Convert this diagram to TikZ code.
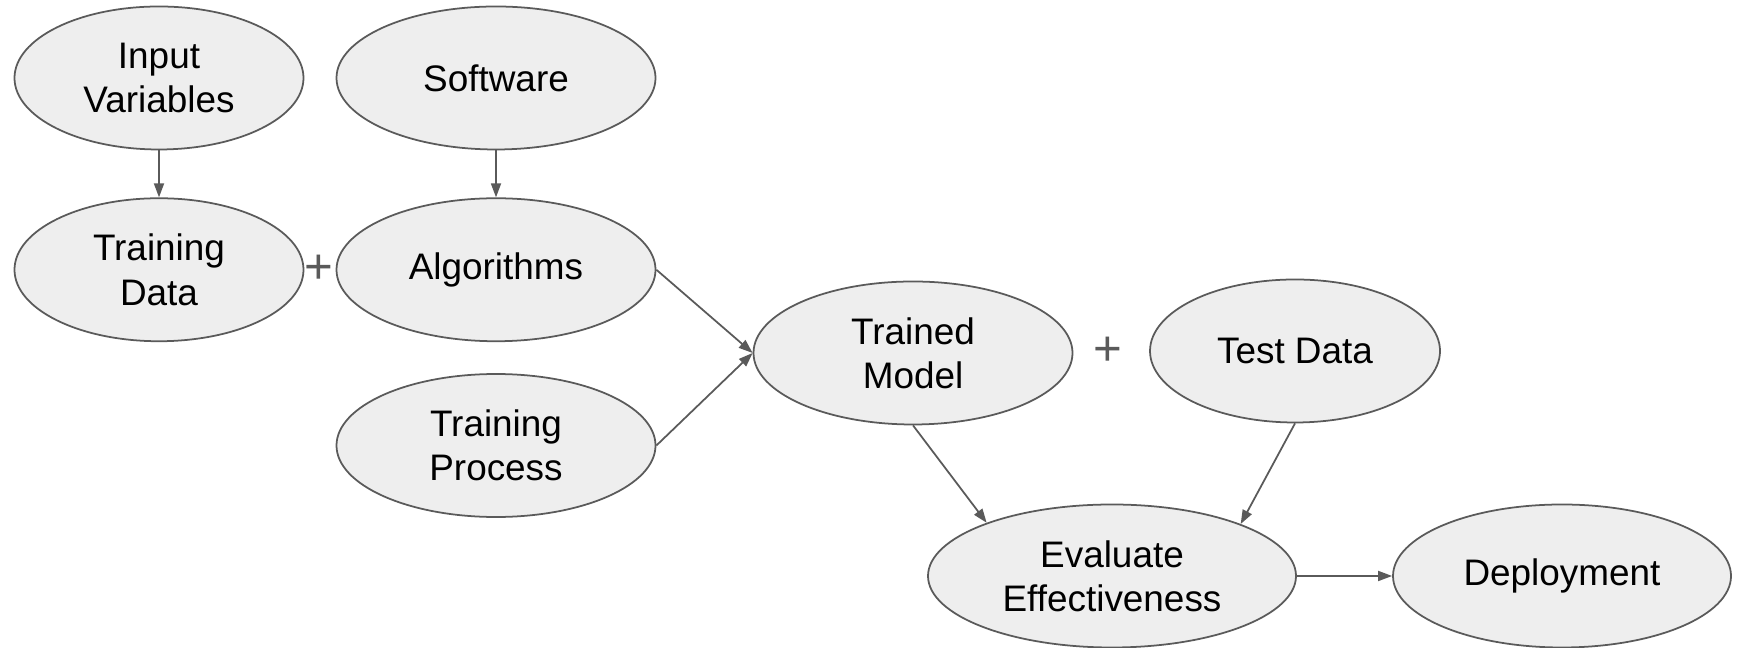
\documentclass[tikz,border=0pt]{standalone}
\usepackage{fontspec}
\setmainfont{Liberation Sans}
\usetikzlibrary{shapes.geometric, arrows.meta, positioning}

\definecolor{stagefill}{HTML}{EEEEEE}
\definecolor{stageline}{HTML}{5A5A5A}

\begin{document}
\begin{tikzpicture}[
    node distance=4.7mm,
    every node/.style={font=\fontsize{10.5}{12.6}\selectfont},
    stage/.style={ellipse, draw=stageline, line width=0.5pt, fill=stagefill, inner sep=0pt, minimum height=1.43cm, align=center},
    plussign/.style={text=stageline, font=\fontsize{14}{14}\selectfont},
    arrow/.style={-{Triangle[length=1.4mm, width=1mm]}, draw=stageline, line width=0.5pt}
]
    \useasboundingbox (0,0) rectangle (17.41,-6.48);

    % Inputs
    \node[stage, minimum width=2.89cm] (input) at (1.59,-0.78) {Input\\Variables};
    \node[stage, minimum width=2.89cm, below=of input] (tdata) {Training\\Data};
    \node[stage, minimum width=3.19cm] (software) at (4.96,-0.78) {Software};
    \node[stage, minimum width=3.19cm, below=of software] (algo) {Algorithms};
    \node[stage, minimum width=3.19cm, below=3.1mm of algo] (process) {Training\\Process};

    % Model and evaluation
    \node[stage, minimum width=3.19cm] (model) at (9.13,-3.53) {Trained\\Model};
    \node[stage, minimum width=2.90cm] (testdata) at (12.95,-3.51) {Test Data};
    \node[stage, minimum width=3.68cm] (evaluate) at (11.12,-5.76) {Evaluate\\Effectiveness};
    \node[stage, minimum width=3.38cm] (deploy) at (15.62,-5.76) {Deployment};

    % Plus signs
    \node[plussign] (plusa) at (3.19,-2.69) {+};
    \node[plussign] (plusb) at (11.08,-3.51) {+};

    % Arrows
    \draw[arrow] (input) -- (tdata);
    \draw[arrow] (software) -- (algo);
    \draw[arrow] (algo.east) -- (model.west);
    \draw[arrow] (process.east) -- (model.west);
    \draw[arrow] (model.south) -- (evaluate.157);
    \draw[arrow] (testdata.south) -- (evaluate.22);
    \draw[arrow] (evaluate) -- (deploy);

\end{tikzpicture}
\end{document}
